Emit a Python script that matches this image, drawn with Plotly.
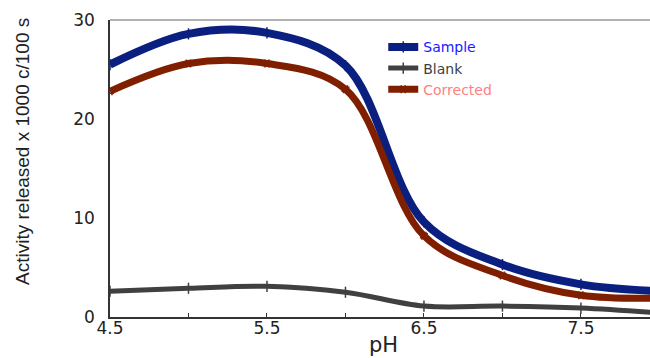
import plotly.graph_objects as go

ph = [4.5, 5.0, 5.5, 6.0, 6.5, 7.0, 7.5, 8.0]
sample = [25.5, 28.6, 28.7, 25.4, 9.6, 5.3, 3.3, 2.6]
blank = [2.6, 2.9, 3.1, 2.5, 1.1, 1.1, 0.9, 0.4]
corrected = [22.8, 25.6, 25.6, 23.0, 8.2, 4.2, 2.2, 1.9]

x_ticks = [4.5, 5.5, 6.5, 7.5]
y_ticks = [0, 10, 20, 30]

fig = go.Figure()
series = [
    ("Sample", sample, "#0a1f80", 8, "line-ns", "#1a1aff"),
    ("Blank", blank, "#404040", 5, "line-ns", "#404040"),
    ("Corrected", corrected, "#7f1f00", 7, "hash", "#ff8080"),
]
for name, vals, col, w, sym, tcol in series:
    fig.add_trace(go.Scatter(
        x=ph, y=vals, mode="lines+markers",
        name=f"<span style='color:{tcol}'>{name}</span>",
        line=dict(color=col, width=w, shape="spline", smoothing=1.0),
        marker=dict(symbol=sym, size=8, color=col, line=dict(color=col, width=1.5)),
    ))

fig.update_layout(
    width=650, height=358,
    margin=dict(l=110, r=0, t=20, b=41, autoexpand=False),
    plot_bgcolor="white", paper_bgcolor="white",
    font=dict(family="DejaVu Sans", color="#222"),
    showlegend=True,
    legend=dict(x=0.506, y=0.962, xanchor="left", yanchor="top",
                bgcolor="rgba(0,0,0,0)", font=dict(size=14, family="DejaVu Sans"),
                tracegroupgap=0, itemwidth=30),
    xaxis=dict(range=[4.5, 7.94], tickvals=x_ticks, ticktext=[str(v) for v in x_ticks],
               showgrid=False, zeroline=False, showline=True, linecolor="#333", linewidth=1.5,
               ticks="inside", ticklen=4, tickcolor="#333", automargin=False,
               ticklabelstandoff=-5,
               minor=dict(dtick=0.5, tick0=4.5, ticks="inside", ticklen=4, tickcolor="#333"),
               tickfont=dict(size=17, family="DejaVu Sans", color="#222")),
    yaxis=dict(range=[0, 30], tickvals=y_ticks, showgrid=False, zeroline=False,
               showline=True, linecolor="#333", linewidth=1.5, ticks="", ticklen=0,
               automargin=False, ticklabelstandoff=10,
               tickfont=dict(size=17, family="DejaVu Sans", color="#222")),
    shapes=[dict(type="line", xref="paper", yref="paper", x0=0, x1=1, y0=1, y1=1,
                 line=dict(color="#999", width=1.5))],
    annotations=[
        dict(text="Activity released x 1000 c/100 s", xref="paper", yref="paper",
             x=-0.161, y=0.556, xanchor="center", yanchor="middle", textangle=-90,
             showarrow=False, font=dict(size=19, family="Liberation Sans", color="#222")),
        dict(text="pH", xref="paper", yref="paper", x=0.506, y=-0.094, xanchor="center",
             yanchor="middle", showarrow=False,
             font=dict(size=21, family="DejaVu Sans", color="#222")),
    ],
)

fig.write_html("out.html", config={"displayModeBar": False},
               post_script="document.body.style.margin='0';document.body.style.overflow='hidden';")
